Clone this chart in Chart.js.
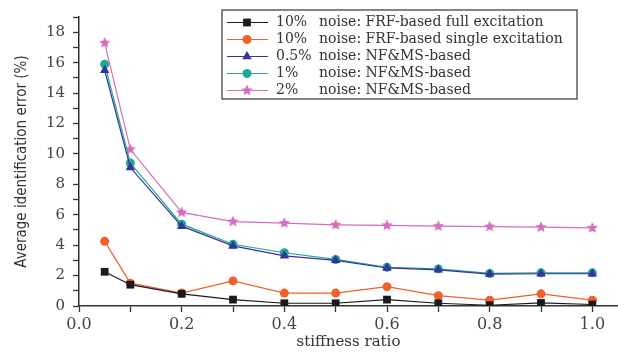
<!DOCTYPE html>
<html>
<head>
<meta charset="utf-8">
<script src="https://cdn.jsdelivr.net/npm/chart.js@4"></script>
<style>
  html, body { margin: 0; padding: 0; background: #fff; }
  #wrap { width: 618px; height: 352px; }
</style>
</head>
<body>
<div id="wrap"><canvas id="chart"></canvas></div>
<script>
// stiffness ratio values on the x axis
const stiffness = [0.05, 0.1, 0.2, 0.3, 0.4, 0.5, 0.6, 0.7, 0.8, 0.9, 1.0];

// average identification error (%) per method
const frfFull10   = [2.25, 1.4, 0.8, 0.42, 0.18, 0.18, 0.42, 0.18, 0.05, 0.2, 0.1];
const frfSingle10 = [4.25, 1.5, 0.85, 1.65, 0.85, 0.85, 1.27, 0.68, 0.38, 0.8, 0.38];
const nfms05      = [15.5, 9.1, 5.25, 3.95, 3.3, 3.0, 2.5, 2.38, 2.1, 2.12, 2.12];
const nfms1       = [15.9, 9.4, 5.38, 4.06, 3.5, 3.06, 2.54, 2.44, 2.14, 2.18, 2.18];
const nfms2       = [17.3, 10.3, 6.15, 5.55, 5.45, 5.34, 5.3, 5.25, 5.22, 5.18, 5.13];

const legendPct  = ['10%', '10%', '0.5%', '1%', '2%'];
const legendText = [
    'noise: FRF-based full excitation',
    'noise: FRF-based single excitation',
    'noise: NF&MS-based',
    'noise: NF&MS-based',
    'noise: NF&MS-based'
];

const xTicks = [0, 0.2, 0.4, 0.6, 0.8, 1.0];
const yTicks = [0, 2, 4, 6, 8, 10, 12, 14, 16, 18];

// filled five point star, Chart.js has no such point style
function makeStar(color, r) {
    const c = document.createElement('canvas');
    const s = Math.ceil(r * 2 + 2);
    c.width = s; c.height = s;
    const g = c.getContext('2d');
    g.fillStyle = color;
    g.beginPath();
    for (let i = 0; i < 10; i++) {
        const rad = i % 2 === 0 ? r : r * 0.45;
        const a = -Math.PI / 2 + i * Math.PI / 5;
        const px = s / 2 + rad * Math.cos(a);
        const py = s / 2 + rad * Math.sin(a);
        if (i === 0) g.moveTo(px, py); else g.lineTo(px, py);
    }
    g.closePath();
    g.fill();
    return c;
}

const star = makeStar('#d36fbe', 6);

function series(label, values, color, style, radius) {
    return {
        label: label,
        data: stiffness.map((x, i) => ({ x: x, y: values[i] })),
        borderColor: color,
        backgroundColor: color,
        borderWidth: 1.2,
        pointStyle: style,
        pointRadius: radius,
        pointBorderWidth: 0,
        pointHoverRadius: radius,
        tension: 0
    };
}

const datasets = [
    series('10% noise: FRF-based full excitation', frfFull10, '#1b1b1b', 'rect', 5.5),
    series('10% noise: FRF-based single excitation', frfSingle10, '#f0602e', 'circle', 4.5),
    series('0.5% noise: NF&MS-based', nfms05, '#34349a', 'triangle', 5.5),
    series('1% noise: NF&MS-based', nfms1, '#1fa797', 'circle', 4.5),
    series('2% noise: NF&MS-based', nfms2, '#d36fbe', star, 6)
];

// boxed legend inside the plot, like the original figure
const boxLegend = {
    id: 'boxLegend',
    afterDraw(chart) {
        const ctx = chart.ctx;
        const bx = 222, by = 10, bw = 355, bh = 89;
        ctx.save();
        ctx.fillStyle = '#fff';
        ctx.fillRect(bx, by, bw, bh);
        ctx.strokeStyle = '#444';
        ctx.lineWidth = 1.3;
        ctx.strokeRect(bx, by, bw, bh);
        ctx.font = '14px "DejaVu Serif", serif';
        ctx.textBaseline = 'middle';
        chart.data.datasets.forEach((ds, i) => {
            const y = by + 12.5 + i * 17;
            ctx.strokeStyle = ds.borderColor;
            ctx.lineWidth = 1.2;
            ctx.beginPath();
            ctx.moveTo(227, y);
            ctx.lineTo(268, y);
            ctx.stroke();
            ctx.fillStyle = ds.backgroundColor;
            Chart.helpers.drawPoint(ctx, {
                pointStyle: ds.pointStyle, radius: ds.pointRadius, rotation: 0, borderWidth: 0
            }, 247, y);
            ctx.fillStyle = '#333';
            ctx.fillText(legendPct[i], 276, y);
            ctx.fillText(legendText[i], 319, y);
        });
        ctx.restore();
    }
};

new Chart(document.getElementById('chart'), {
    type: 'line',
    data: { datasets: datasets },
    plugins: [boxLegend],
    options: {
        responsive: true,
        maintainAspectRatio: false,
        animation: false,
        layout: { autoPadding: false, padding: { top: 10, right: 0, left: 0, bottom: 0 } },
        plugins: {
            legend: { display: false },
            tooltip: { enabled: false }
        },
        scales: {
            x: {
                type: 'linear',
                min: 0,
                max: 1.05,
                afterFit: s => { s.height = 46; s.paddingRight = 0; },
                border: { display: true, color: '#333', width: 1.5 },
                grid: { display: true, drawOnChartArea: false, tickLength: 6, tickColor: '#333', tickWidth: 1.3 },
                ticks: {
                    stepSize: 0.1,
                    includeBounds: false,
                    padding: 3,
                    maxRotation: 0,
                    autoSkip: false,
                    color: '#444',
                    font: { family: '"DejaVu Serif", serif', size: 16 },
                    callback: v => xTicks.some(t => Math.abs(t - v) < 1e-6) ? v.toFixed(1) : ''
                },
                title: {
                    display: true,
                    text: 'stiffness ratio',
                    color: '#333',
                    font: { family: '"DejaVu Serif", serif', size: 15 },
                    padding: { top: 0, bottom: 1 }
                }
            },
            y: {
                min: 0,
                max: 19,
                afterFit: s => { s.width = 79; },
                border: { display: true, color: '#333', width: 1.5 },
                grid: { display: true, drawOnChartArea: false, tickLength: 6, tickColor: '#333', tickWidth: 1.3 },
                ticks: {
                    stepSize: 1,
                    padding: 8,
                    autoSkip: false,
                    color: '#444',
                    font: { family: '"DejaVu Serif", serif', size: 15 },
                    callback: v => yTicks.includes(v) ? String(v) : ''
                },
                title: {
                    display: true,
                    text: 'Average identification error (%)',
                    color: '#333',
                    font: { family: '"Liberation Sans Narrow", "DejaVu Sans Condensed", sans-serif', size: 15 },
                    padding: { top: 13, bottom: 0 }
                }
            }
        }
    }
});
</script>
</body>
</html>
